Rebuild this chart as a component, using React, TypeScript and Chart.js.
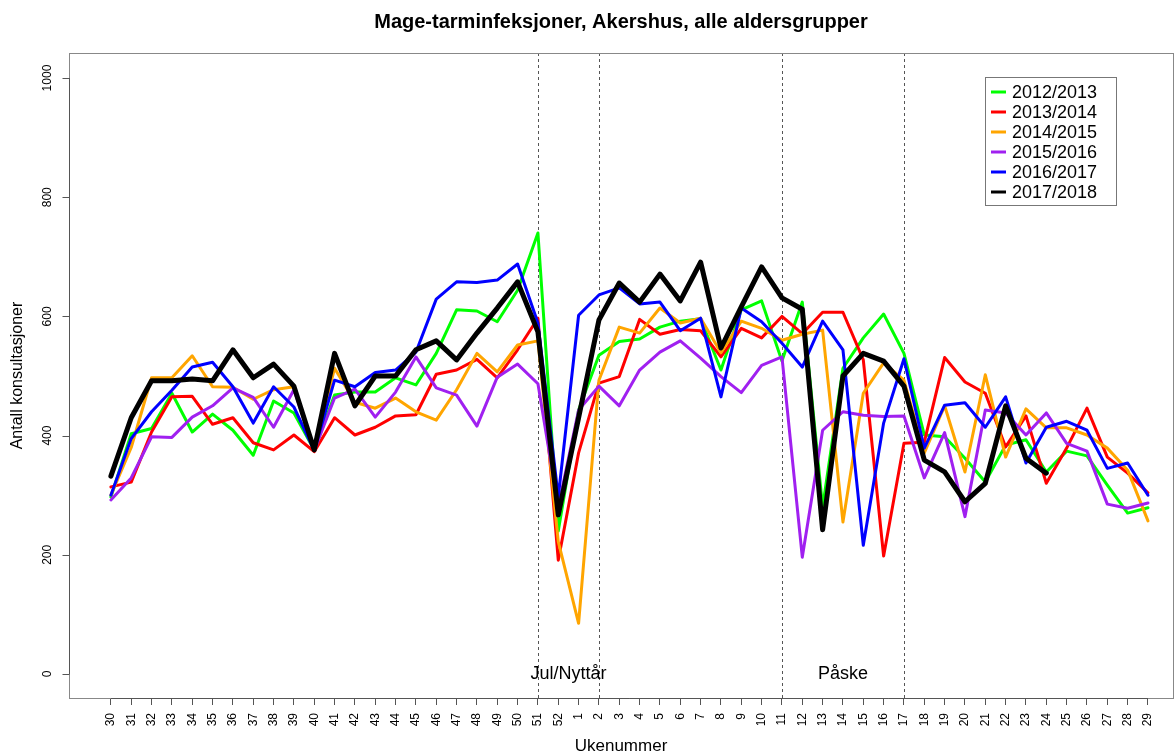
import React, { useEffect, useRef } from "react";
import { Chart, registerables } from "chart.js";

Chart.register(...registerables);

const weekLabels = [
  "30", "31", "32", "33", "34", "35", "36", "37", "38", "39", "40", "41", "42", "43", "44", "45", "46", "47", "48", "49", "50", "51", "52",
  "1", "2", "3", "4", "5", "6", "7", "8", "9", "10", "11", "12", "13", "14", "15", "16", "17", "18", "19", "20", "21", "22", "23", "24", "25", "26", "27", "28", "29",
];
const yTicks = [0, 200, 400, 600, 800, 1000];

const s2012 = [297, 403, 412, 471, 406, 436, 409, 367, 458, 438, 376, 468, 473, 473, 497, 485, 538, 611, 609, 591, 644, 740, 240, 443, 535, 558, 562, 582, 592, 596, 510, 611, 626, 525, 624, 280, 513, 564, 604, 538, 401, 398, 362, 322, 384, 393, 339, 374, 366, 317, 270, 279];
const s2013 = [314, 322, 406, 465, 466, 419, 430, 388, 376, 401, 373, 430, 401, 414, 433, 435, 503, 510, 528, 497, 544, 597, 191, 371, 488, 499, 595, 570, 578, 576, 532, 580, 564, 600, 571, 607, 607, 527, 198, 387, 389, 531, 490, 471, 381, 433, 320, 379, 446, 364, 337, 304];
const s2014 = [300, 380, 497, 497, 534, 482, 481, 461, 477, 482, 375, 513, 456, 446, 463, 440, 426, 477, 538, 507, 552, 559, 222, 85, 493, 582, 572, 614, 589, 597, 539, 592, 580, 560, 570, 577, 255, 471, 522, 493, 371, 450, 339, 502, 364, 445, 413, 413, 401, 379, 342, 257];
const s2015 = [292, 329, 398, 397, 431, 450, 480, 464, 414, 477, 375, 463, 478, 431, 473, 532, 480, 468, 416, 498, 520, 487, 280, 443, 483, 450, 510, 540, 559, 530, 499, 472, 518, 532, 196, 409, 440, 434, 432, 433, 329, 405, 264, 443, 438, 401, 438, 387, 374, 285, 278, 287];
const s2016 = [300, 395, 440, 476, 515, 523, 482, 421, 482, 448, 375, 493, 482, 506, 510, 540, 629, 658, 657, 661, 688, 589, 297, 602, 636, 648, 621, 624, 576, 597, 465, 614, 591, 555, 515, 592, 544, 216, 421, 529, 379, 451, 455, 414, 465, 354, 414, 424, 409, 345, 354, 300];
const s2017 = [332, 430, 492, 492, 495, 492, 544, 497, 520, 483, 376, 538, 450, 500, 500, 544, 559, 527, 572, 614, 658, 574, 267, 430, 594, 656, 624, 671, 626, 691, 547, 616, 683, 631, 612, 242, 500, 538, 525, 483, 359, 339, 289, 320, 450, 362, 337];

const seriesNames = ["2012/2013", "2013/2014", "2014/2015", "2015/2016", "2016/2017", "2017/2018"];
const seriesColors = ["#00FF00", "#FF0000", "#FFA500", "#A020F0", "#0000FF", "#000000"];
const seriesWidths = [3, 3, 3, 3, 3, 5];
const seriesValues = [s2012, s2013, s2014, s2015, s2016, s2017];

const holidayWeeks = ["51", "2", "11", "17"];
const holidayTexts = [
  { label: "Jul/Nyttår", from: "51", to: "2" },
  { label: "Påske", from: "11", to: "17" },
];

const titleText = "Mage-tarminfeksjoner, Akershus, alle aldersgrupper";
const xTitle = "Ukenummer";
const yTitle = "Antall konsultasjoner";

const FONT = '"Liberation Sans", Arial, Helvetica, sans-serif';

const decorPlugin = {
  id: "decor",
  beforeDatasetsDraw(chart: any) {
    const { ctx, chartArea: a, scales } = chart;
    const x = scales.x;
    const y = scales.y;
    ctx.save();
    ctx.strokeStyle = "#555";
    ctx.lineWidth = 1;
    ctx.setLineDash([3, 3]);
    holidayWeeks.forEach((w) => {
      const i = weekLabels.indexOf(w);
      const px = Math.round(x.getPixelForValue(i)) + 0.5;
      ctx.beginPath();
      ctx.moveTo(px, a.top);
      ctx.lineTo(px, a.bottom);
      ctx.stroke();
    });
    ctx.setLineDash([]);
    ctx.fillStyle = "#000";
    ctx.font = `18px ${FONT}`;
    ctx.textAlign = "center";
    ctx.textBaseline = "middle";
    holidayTexts.forEach((t) => {
      const i0 = weekLabels.indexOf(t.from);
      const i1 = weekLabels.indexOf(t.to);
      ctx.fillText(t.label, x.getPixelForValue((i0 + i1) / 2), y.getPixelForValue(0));
    });
    ctx.restore();
  },
  afterDraw(chart: any) {
    const { ctx, chartArea: a, scales } = chart;
    const x = scales.x;
    const y = scales.y;
    ctx.save();
    // box
    ctx.strokeStyle = "#888";
    ctx.lineWidth = 1;
    ctx.strokeRect(Math.round(a.left) + 0.5, Math.round(a.top) + 0.5, Math.round(a.right - a.left), Math.round(a.bottom - a.top));
    // axis lines and y tick marks
    const ax = Math.round(a.left) + 0.5;
    ctx.strokeStyle = "#555";
    ctx.beginPath();
    ctx.moveTo(ax, y.getPixelForValue(0));
    ctx.lineTo(ax, y.getPixelForValue(1000));
    yTicks.forEach((v) => {
      const py = Math.round(y.getPixelForValue(v)) + 0.5;
      ctx.moveTo(ax - 7, py);
      ctx.lineTo(ax, py);
    });
    ctx.moveTo(x.getPixelForValue(0), Math.round(a.bottom) + 0.5);
    ctx.lineTo(x.getPixelForValue(weekLabels.length - 1), Math.round(a.bottom) + 0.5);
    ctx.stroke();
    // y tick labels (rotated)
    ctx.fillStyle = "#000";
    ctx.font = `12px ${FONT}`;
    ctx.textAlign = "center";
    ctx.textBaseline = "middle";
    yTicks.forEach((v) => {
      ctx.save();
      ctx.translate(a.left - 21, y.getPixelForValue(v));
      ctx.rotate(-Math.PI / 2);
      ctx.fillText(String(v), 0, 0);
      ctx.restore();
    });
    // y title
    ctx.save();
    ctx.font = `16px ${FONT}`;
    ctx.translate(18, (a.top + a.bottom) / 2);
    ctx.rotate(-Math.PI / 2);
    ctx.fillText(yTitle, 0, 0);
    ctx.restore();
    // x title
    ctx.font = `17px ${FONT}`;
    ctx.fillText(xTitle, (a.left + a.right) / 2, 746);
    // main title
    ctx.font = `bold 20px ${FONT}`;
    ctx.fillText(titleText, (a.left + a.right) / 2, 22);
    // legend
    const lx = 985.5, ly = 77.5, lw = 131, lh = 128;
    ctx.fillStyle = "#fff";
    ctx.fillRect(lx, ly, lw, lh);
    ctx.strokeStyle = "#777";
    ctx.lineWidth = 1;
    ctx.strokeRect(lx, ly, lw, lh);
    ctx.font = `18px ${FONT}`;
    ctx.textAlign = "left";
    seriesNames.forEach((name, k) => {
      const ry = 92 + 20 * k;
      ctx.strokeStyle = seriesColors[k];
      ctx.lineWidth = 3;
      ctx.beginPath();
      ctx.moveTo(991, ry);
      ctx.lineTo(1006, ry);
      ctx.stroke();
      ctx.fillStyle = "#000";
      ctx.fillText(name, 1012, ry + 1);
    });
    ctx.restore();
  },
};

export default function App() {
  const ref = useRef<HTMLCanvasElement | null>(null);
  useEffect(() => {
    if (!ref.current) return;
    const datasets = seriesValues.map((vals, k) => ({
      label: seriesNames[k],
      data: vals.map((v, i) => ({ x: i, y: v })),
      borderColor: seriesColors[k],
      backgroundColor: seriesColors[k],
      borderWidth: seriesWidths[k],
      pointRadius: 0,
      tension: 0,
      fill: false,
      borderCapStyle: "round" as const,
      borderJoinStyle: "round" as const,
      order: seriesValues.length - k,
    }));
    const chart = new Chart(ref.current, {
      type: "line",
      data: { datasets },
      options: {
        responsive: false,
        animation: false,
        events: [],
        layout: { padding: { top: 53, right: 1, left: 0, bottom: 0 } },
        plugins: { legend: { display: false }, title: { display: false }, tooltip: { enabled: false } },
        scales: {
          x: {
            type: "linear",
            min: -2.06,
            max: 52.23,
            afterBuildTicks: (s: any) => {
              s.ticks = weekLabels.map((_, i) => ({ value: i }));
            },
            afterFit: (s: any) => {
              s.height = 55;
              s.paddingLeft = 0;
              s.paddingRight = 0;
            },
            ticks: {
              autoSkip: false,
              minRotation: 90,
              maxRotation: 90,
              padding: 8,
              color: "#000",
              font: { size: 12, family: FONT },
              callback: (v: any) => weekLabels[v as number] ?? "",
            },
            grid: { drawOnChartArea: false, drawTicks: true, tickLength: 7, color: "#555" },
            border: { display: false },
          },
          y: {
            type: "linear",
            min: -40.3,
            max: 1042,
            afterBuildTicks: (s: any) => {
              s.ticks = yTicks.map((v) => ({ value: v }));
            },
            afterFit: (s: any) => {
              s.width = 69;
              s.paddingTop = 0;
              s.paddingBottom = 0;
            },
            ticks: { display: false },
            grid: { display: false },
            border: { display: false },
          },
        },
      },
      plugins: [decorPlugin],
    });
    return () => chart.destroy();
  }, []);
  return (
    <div style={{ position: "absolute", left: 0, top: 0, width: 1174, height: 753, background: "#fff" }}>
      <canvas ref={ref} width={1174} height={753} style={{ display: "block", width: 1174, height: 753 }} />
    </div>
  );
}
